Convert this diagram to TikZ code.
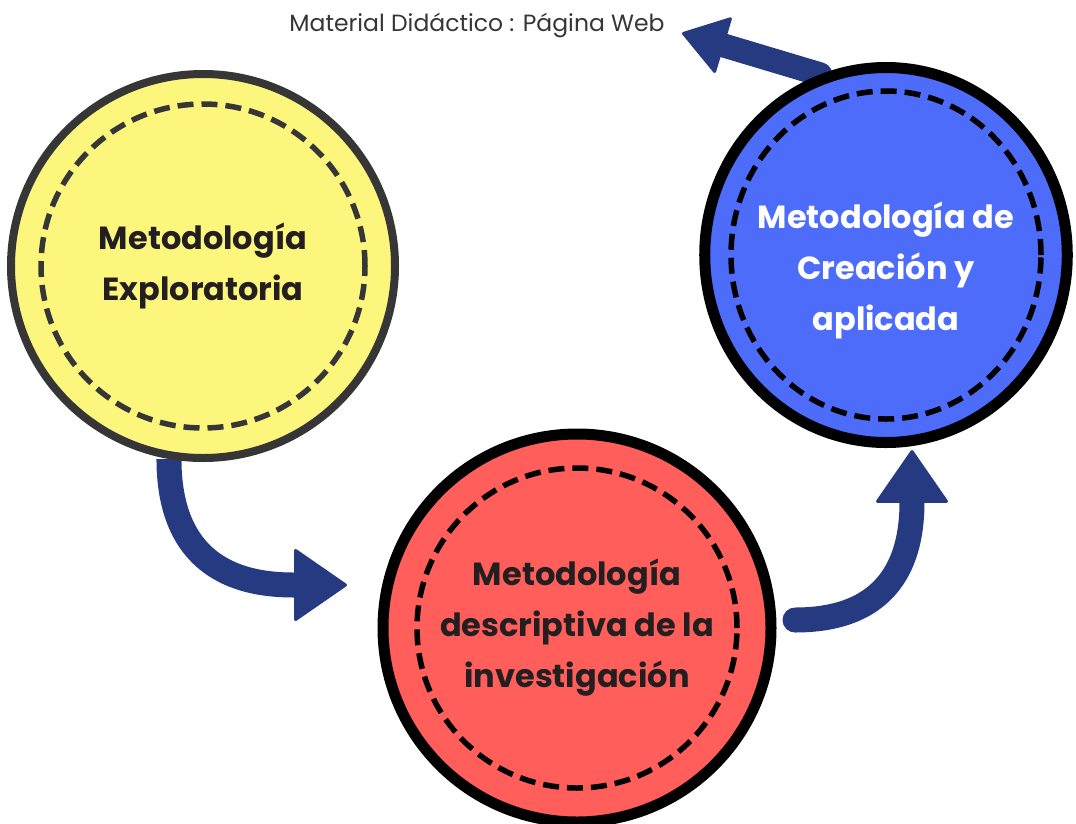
\documentclass[tikz,border=0pt]{standalone}
\usepackage{fontspec}
\setmainfont{Poppins}
\usetikzlibrary{arrows.meta,backgrounds,shapes.geometric}
\definecolor{amarillo}{HTML}{FDF67D}
\definecolor{rojo}{HTML}{FF5E5B}
\definecolor{azul}{HTML}{4D6CFA}
\definecolor{marino}{HTML}{253A80}
\definecolor{gris}{HTML}{363636}
\definecolor{tinta}{HTML}{231F20}
\tikzset{
    %Define style for circles
    punkt/.style={
           circle,
           draw=black, line width=11pt,
           inner sep=0pt,
           align=center,
           text=tinta,
           font=\bfseries\fontsize{32}{51}\selectfont},
    %Define style for the dashed ring
    ring/.style={
           draw=black,
           line width=5.5pt,
           dash pattern=on 16pt off 8pt},
    % Define arrow style
    pil/.style={
           marino,
           line width=25pt,
           -{Triangle[length=54pt,width=74pt,round,line width=3pt]}}
}
\begin{document}
\begin{tikzpicture}[x=1pt,y=-1pt]
\useasboundingbox (0,0) rectangle (1076,823);

 %nodes
\node[punkt, fill=amarillo, draw=gris, line width=8pt, minimum size=384pt] (1) at (203,266) {Metodología\\Exploratoria};
\node[punkt, fill=rojo, minimum size=388pt] (2) at (577,628) {Metodología\\descriptiva de la\\investigación};
\node[punkt, ellipse, fill=azul, minimum width=356pt, minimum height=375pt, text=white] (3) at (886,255)
     {\rule{0pt}{58pt}Metodología de\\Creación y\\aplicada};
\node[text=gris, font=\fontsize{23.5}{28}\selectfont] (web) at (477,25) {Material Didáctico : Página Web};

 %dashed rings
\draw[ring, draw=gris] (1.center) circle[radius=162pt];
\draw[ring] (2.center) circle[radius=160pt];
\draw[ring] (3.center) ellipse[x radius=155pt, y radius=164pt];

 %arrow ends
\coordinate (a1) at (347,585);
\coordinate (a2) at (795,620);
\coordinate (a3) at (912,450);
\coordinate (a4) at (682,33);

\begin{scope}[on background layer]
\draw[pil] (1.-100) .. controls +(0,120) and +(-90,0) .. (a1);
\draw[pil, line cap=round] (a2) .. controls +(95,0) and +(0,110) .. (a3);
\draw[pil, line width=24pt, line cap=round,
      -{Triangle[length=45pt,width=60pt,round,line width=3pt]}] (3.110) -- (a4);
\end{scope}
\end{tikzpicture}
\end{document}
